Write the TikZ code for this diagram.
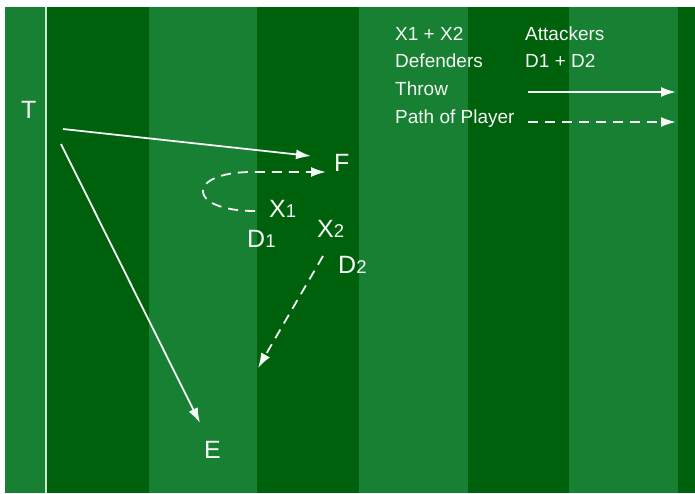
\documentclass[tikz,border=0pt]{standalone}
\usepackage{fontspec}
\setmainfont{Liberation Sans}
\usetikzlibrary{arrows.meta}
\definecolor{fieldlight}{RGB}{23,128,51}
\definecolor{fielddark}{RGB}{0,97,13}
\definecolor{lineclr}{RGB}{205,232,205}
\definecolor{inkclr}{RGB}{245,248,245}
\newcommand\plab[2]{#1{\fontsize{18.5}{20}\selectfont #2}}
\begin{document}
\begin{tikzpicture}[x=1pt,y=-1pt,
  lbl/.style={anchor=base west,inner sep=0pt,text=inkclr,font=\fontsize{25}{27}\selectfont},
  leg/.style={anchor=base west,inner sep=0pt,text=inkclr,font=\fontsize{19}{21}\selectfont},
  throwline/.style={draw=inkclr,line width=1.8pt,-{Latex[length=15pt,width=10pt]}},
  pathline/.style={draw=inkclr,line width=1.8pt,dash pattern=on 10pt off 7pt,-{Latex[length=15pt,width=10pt]}}]
\useasboundingbox (0,0) rectangle (695,493);
\fill[white] (0,0) rectangle (695,493);
% stripes
\fill[fieldlight] (5,7) rectangle (47,493);
\fill[fielddark] (47,7) rectangle (149,493);
\fill[fieldlight] (149,7) rectangle (257,493);
\fill[fielddark] (257,7) rectangle (359,493);
\fill[fieldlight] (359,7) rectangle (468,493);
\fill[fielddark] (468,7) rectangle (569,493);
\fill[fieldlight] (569,7) rectangle (678,493);
\fill[fielddark] (678,7) rectangle (695,493);
\draw[lineclr,line width=2pt] (46,7) -- (46,493);
% labels
\node[lbl] (T) at (21,118) {T};
\node[lbl] (F) at (334,171) {F};
\node[lbl] (X1) at (269,217) {\plab{X}{1}};
\node[lbl] (D1) at (247,247) {\plab{D}{1}};
\node[lbl] (X2) at (317,237) {\plab{X}{2}};
\node[lbl] (D2) at (338,273) {\plab{D}{2}};
\node[lbl] (E) at (204,458) {E};
% connector ends
\coordinate (tA) at (63,129);
\coordinate (tB) at (61,144);
\coordinate (fIn) at (311,156);
\coordinate (eIn) at (200,423);
\coordinate (x1Start) at (255,211);
\coordinate (x1End) at (326,172);
\coordinate (d2Start) at (323,256);
\coordinate (d2End) at (258,368);
\draw[throwline] (tA) -- (fIn);
\draw[throwline] (tB) -- (eIn);
\draw[pathline] (x1Start) .. controls (186,211) and (186,172) .. (252,172) -- (x1End);
\draw[pathline] (d2Start) -- (d2End);
% legend
\node[leg] (l1a) at (395,40) {X1 + X2};
\node[leg] (l1b) at (525,40) {Attackers};
\node[leg] (l2a) at (395,67) {Defenders};
\node[leg] (l2b) at (525,67) {D1 + D2};
\node[leg] (l3a) at (395,95) {Throw};
\node[leg] (l4a) at (395,123) {Path of Player};
\coordinate (lgTs) at (528,92);
\coordinate (lgTe) at (676,92);
\coordinate (lgPs) at (528,122);
\coordinate (lgPe) at (676,122);
\draw[throwline] (lgTs) -- (lgTe);
\draw[pathline] (lgPs) -- (lgPe);
\end{tikzpicture}
\end{document}
